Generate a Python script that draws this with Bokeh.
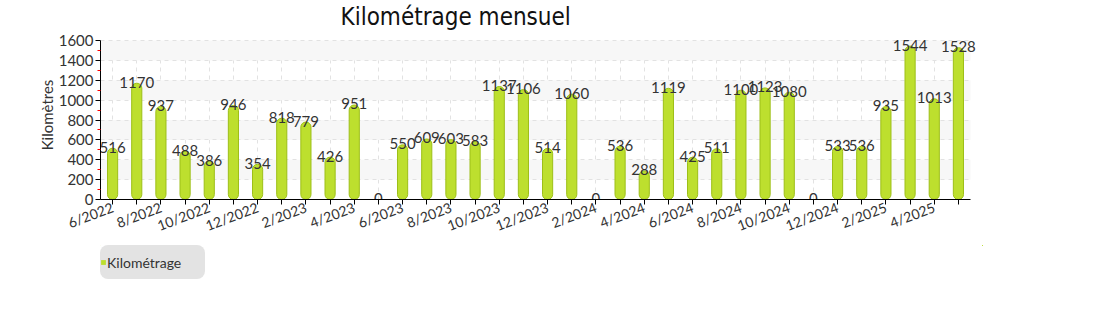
from bokeh.plotting import figure
from bokeh.layouts import column
from bokeh.models import Range1d, FixedTicker, Legend, LegendItem, Title, ColumnDataSource
from bokeh.core.properties import value
from bokeh.embed import file_html
from bokeh.resources import INLINE

months = ["6/2022", "7/2022", "8/2022", "9/2022", "10/2022", "11/2022", "12/2022",
          "1/2023", "2/2023", "3/2023", "4/2023", "5/2023", "6/2023", "7/2023",
          "8/2023", "9/2023", "10/2023", "11/2023", "12/2023", "1/2024", "2/2024",
          "3/2024", "4/2024", "5/2024", "6/2024", "7/2024", "8/2024", "9/2024",
          "10/2024", "11/2024", "12/2024", "1/2025", "2/2025", "3/2025", "4/2025",
          "5/2025"]
km = [516, 1170, 937, 488, 386, 946, 354, 818, 779, 426, 951, 0, 550, 609, 603, 583,
      1137, 1106, 514, 1060, 0, 536, 288, 1119, 425, 511, 1100, 1123, 1080, 0, 533,
      536, 935, 1544, 1013, 1528]
y_ticks = [0, 200, 400, 600, 800, 1000, 1200, 1400, 1600]

FONT = "Lato"
BAR_FILL = "#bddf2e"
BAR_LINE = "#9dbf18"
idx = list(range(len(months)))
src = ColumnDataSource(dict(x=idx, top=km, lab=[str(v) for v in km]))

X_LO, X_HI = -0.5, len(months) - 0.5
Y_LO, Y_HI = y_ticks[0], y_ticks[-1]

# axes box 100..970 x 40..199 px; frame slightly larger so labels are not clipped
LEFT, TOP = 100, 30
AX_W, AX_TOP, AX_BOT = 870, 40, 199
FRAME_W = 882
BOTTOM = 46
xs = AX_W / (X_HI - X_LO)
ys = (AX_BOT - AX_TOP) / (Y_HI - Y_LO)

p = figure(width=1100, height=AX_BOT + BOTTOM, output_backend="svg",
           toolbar_location=None,
           x_range=Range1d(X_LO, X_LO + FRAME_W / xs),
           y_range=Range1d(Y_LO, Y_HI + (AX_TOP - TOP) / ys),
           min_border_left=LEFT, min_border_right=1100 - LEFT - FRAME_W,
           min_border_top=TOP, min_border_bottom=BOTTOM, tools="")
p.outline_line_color = None
p.background_fill_color = "white"

title = Title(text="Kilométrage mensuel", align="left", offset=240,
              text_font="'Liberation Sans Narrow', 'DejaVu Sans Condensed', sans-serif",
              text_font_size="24px", text_font_style="normal", text_color="#111111",
              standoff=0)
p.add_layout(title, "above")

bar_kw = dict(x="x", top="top", bottom=0, width=0.42, source=src,
              fill_color=BAR_FILL, line_color=BAR_LINE, line_width=1)
try:
    bars = p.vbar(border_radius=5, **bar_kw)
except Exception:
    bars = p.vbar(**bar_kw)

p.text(x="x", y="top", text="lab", source=src, text_align="center",
       text_baseline="alphabetic", y_offset=-1, text_font=value(FONT),
       text_font_size="15px", text_color="#333333")

# axes
xt = FixedTicker(ticks=idx)
p.xaxis.ticker = xt
p.xaxis.bounds = (X_LO, X_HI)
p.xaxis.major_label_overrides = {i: (m if i % 2 == 0 else "") for i, m in enumerate(months)}
p.xaxis.major_label_orientation = 0.36
p.xaxis.major_label_text_font = FONT
p.xaxis.major_label_text_font_size = "14px"
p.xaxis.major_label_text_color = "#333333"
p.xaxis.axis_line_color = "black"
p.xaxis.major_tick_line_color = "black"
p.xaxis.major_tick_in = 0
p.xaxis.major_tick_out = 5
p.xaxis.minor_tick_line_color = None
p.xaxis.major_label_standoff = 2

p.yaxis.ticker = FixedTicker(ticks=y_ticks,
                             minor_ticks=[v + 100 for v in y_ticks[:-1]])
p.yaxis.bounds = (Y_LO, Y_HI)
p.yaxis.axis_label = "Kilomètres"
p.yaxis.axis_label_text_font = FONT
p.yaxis.axis_label_text_font_size = "15px"
p.yaxis.axis_label_text_font_style = "normal"
p.yaxis.axis_label_text_color = "#333333"
p.yaxis.axis_label_standoff = 0
p.yaxis.major_label_text_font = FONT
p.yaxis.major_label_text_font_size = "15px"
p.yaxis.major_label_text_color = "#333333"
p.yaxis.major_label_standoff = 2
p.yaxis.axis_line_color = "black"
p.yaxis.major_tick_line_color = "black"
p.yaxis.major_tick_in = 0
p.yaxis.major_tick_out = 5
p.yaxis.minor_tick_line_color = "red"
p.yaxis.minor_tick_in = 0
p.yaxis.minor_tick_out = 3

# grids
p.xgrid.ticker = xt
p.xgrid.grid_line_color = "#e2e2e2"
p.xgrid.grid_line_dash = "4 4"
p.ygrid.ticker = FixedTicker(ticks=y_ticks[1:])
p.ygrid.grid_line_color = "#e2e2e2"
p.ygrid.grid_line_dash = "4 4"
p.ygrid.band_fill_color = "#f7f7f7"
p.ygrid.band_fill_alpha = 1
try:
    p.xgrid.cross_bounds = (Y_LO, Y_HI)
    p.ygrid.cross_bounds = (X_LO, X_HI)
except Exception:
    pass

# legend strip below the chart (its hair-thin bars lie outside the visible range)
LF_H = 320 - (AX_BOT + BOTTOM)
lf = figure(width=1100, height=LF_H, output_backend="svg", toolbar_location=None,
            x_range=Range1d(0, 1), y_range=Range1d(-2, -1), tools="",
            x_axis_type=None, y_axis_type=None, min_border=0)
lf.outline_line_color = None
lf.grid.visible = False
lbars = lf.vbar(x="x", top="top", bottom=0, width=0.001, source=src,
                fill_color=BAR_FILL, line_color=None)
legend = Legend(items=[LegendItem(label="Kilométrage", renderers=[lbars])],
                location=(0, LF_H - 34), padding=0, margin=0, glyph_width=6,
                glyph_height=6, label_standoff=1, label_height=34, label_width=98,
                label_text_font=FONT, label_text_font_size="14px",
                label_text_color="#333333", border_line_color=None,
                background_fill_color="#e3e3e3", background_fill_alpha=1)
try:
    legend.border_radius = 8
except Exception:
    pass
lf.add_layout(legend)

layout = column(p, lf, spacing=0)
open("out.html", "w").write(file_html(layout, INLINE))
